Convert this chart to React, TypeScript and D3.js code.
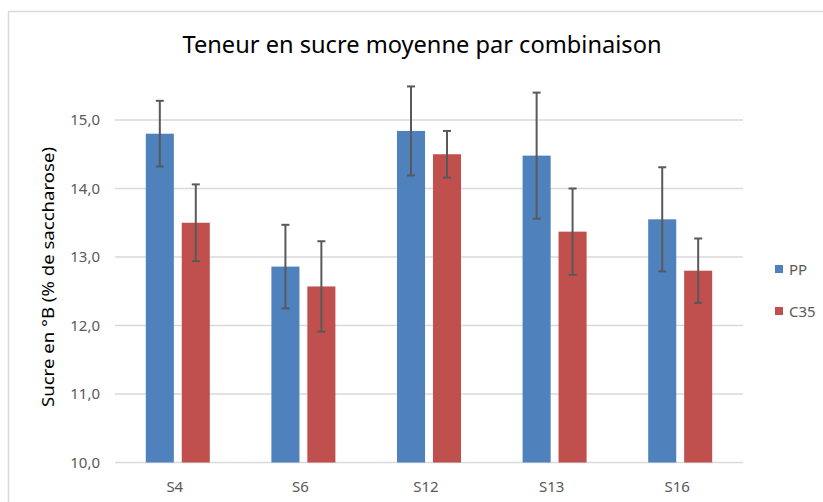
import React from "react";
import * as d3 from "d3";

// valeurs
const categories = ["S4", "S6", "S12", "S13", "S16"];
const series = ["PP", "C35"];
const ppValues = [14.8, 12.86, 14.84, 14.48, 13.55];
const ppErrors = [0.48, 0.61, 0.65, 0.92, 0.76];
const c35Values = [13.5, 12.57, 14.5, 13.37, 12.8];
const c35Errors = [0.56, 0.66, 0.34, 0.63, 0.47];
const yTicks = [10, 11, 12, 13, 14, 15];

const colors: Record<string, string> = { PP: "#4F81BD", C35: "#C0504D" };
const FONT = "'Noto Sans', 'Open Sans', sans-serif";

export default function App() {
  const width = 823;
  const height = 502;

  const x = d3.scaleBand().domain(categories).range([115, 743]).padding(0);
  const y = d3.scaleLinear().domain([10, 15]).range([462.5, 120]);
  const bw = x.bandwidth();
  const inner = d3
    .scaleBand()
    .domain(series)
    .range([bw / 2 - 32, bw / 2 + 32])
    .paddingInner(0.22);

  const rows = categories.map((c, i) => ({
    cat: c,
    vals: [
      { s: "PP", v: ppValues[i], e: ppErrors[i] },
      { s: "C35", v: c35Values[i], e: c35Errors[i] },
    ],
  }));

  const fmt = (v: number) => d3.format(".1f")(v).replace(".", ",");

  return (
    <svg
      width={width}
      height={height}
      style={{ position: "absolute", left: 0, top: 0, background: "#fff" }}
    >
      {/* cadre du graphique */}
      <rect
        x={8.5}
        y={11.5}
        width={900}
        height={600}
        fill="#fff"
        stroke="#D9D9D9"
        strokeWidth={1.5}
      />
      <text
        x={422}
        y={53}
        textAnchor="middle"
        fontFamily={FONT}
        fontSize={23}
        fill="#000"
        textLength={479}
        lengthAdjust="spacingAndGlyphs"
      >
        Teneur en sucre moyenne par combinaison
      </text>

      {/* grille */}
      {yTicks.map((t) => (
        <g key={t}>
          <line
            x1={115}
            x2={743}
            y1={y(t)}
            y2={y(t)}
            stroke="#D9D9D9"
            strokeWidth={1.5}
          />
          <text
            x={100}
            y={y(t) + 5}
            textAnchor="end"
            fontFamily={FONT}
            fontSize={15}
            fill="#595959"
          >
            {fmt(t)}
          </text>
        </g>
      ))}

      {/* barres */}
      {rows.map((r) => (
        <g key={r.cat} transform={`translate(${x(r.cat)},0)`}>
          {r.vals.map((d) => {
            const bx = inner(d.s)!;
            const cx = bx + inner.bandwidth() / 2;
            return (
              <g key={d.s}>
                <rect
                  x={bx}
                  y={y(d.v)}
                  width={inner.bandwidth()}
                  height={y(10) - y(d.v)}
                  fill={colors[d.s]}
                />
                <line
                  x1={cx}
                  x2={cx}
                  y1={y(d.v + d.e)}
                  y2={y(d.v - d.e)}
                  stroke="#595959"
                  strokeWidth={2}
                />
                <line
                  x1={cx - 4}
                  x2={cx + 4}
                  y1={y(d.v + d.e)}
                  y2={y(d.v + d.e)}
                  stroke="#595959"
                  strokeWidth={2}
                />
                <line
                  x1={cx - 4}
                  x2={cx + 4}
                  y1={y(d.v - d.e)}
                  y2={y(d.v - d.e)}
                  stroke="#595959"
                  strokeWidth={2}
                />
              </g>
            );
          })}
          <text
            x={bw / 2 - 3}
            y={492}
            textAnchor="middle"
            fontFamily={FONT}
            fontSize={15}
            fill="#595959"
          >
            {r.cat}
          </text>
        </g>
      ))}

      {/* titre axe y */}
      <text
        transform={`translate(54,277) rotate(-90)`}
        textAnchor="middle"
        fontFamily={FONT}
        fontSize={17}
        fill="#000"
        textLength={260}
        lengthAdjust="spacingAndGlyphs"
      >
        Sucre en °B (% de saccharose)
      </text>

      {/* légende */}
      {series.map((s, i) => (
        <g key={s} transform={`translate(775,${265 + i * 42})`}>
          <rect width={8} height={8} fill={colors[s]} />
          <text
            x={14}
            y={10}
            fontFamily={FONT}
            fontSize={15}
            fill="#595959"
          >
            {s}
          </text>
        </g>
      ))}
    </svg>
  );
}
